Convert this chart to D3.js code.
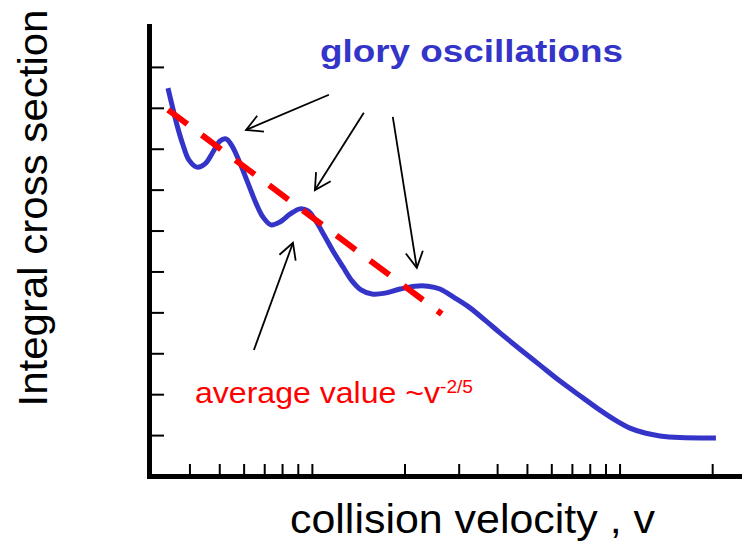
<!DOCTYPE html>
<html>
<head>
<meta charset="utf-8">
<script src="https://cdn.jsdelivr.net/npm/d3@7"></script>
<style>
  html, body { margin: 0; padding: 0; background: #fff; }
  svg { display: block; font-family: "Liberation Sans", Arial, sans-serif; }
</style>
</head>
<body>
<svg id="chart" width="742" height="541"></svg>
<script>
// Integral cross section vs collision velocity (log velocity axis)
const velocity = [0.3406, 0.3510, 0.3644, 0.3812, 0.3987, 0.4232, 0.4494, 0.4771, 0.5028, 0.5258,
                  0.5499, 0.5838, 0.6198, 0.6580, 0.6935, 0.7362, 0.7873, 0.8487, 0.9148, 0.9712,
                  1.031, 1.095, 1.171, 1.262, 1.350, 1.444, 1.568, 1.728, 1.933, 2.163,
                  2.384, 2.608, 2.918, 3.265, 3.653, 4.087, 4.747, 5.511, 6.401, 7.605,
                  8.636, 9.808, 10.81, 12.09, 13.53, 15.72, 20.57];
const crossSection = [9.48, 9.07, 8.58, 8.09, 7.72, 7.55, 7.63, 7.92, 8.19, 8.24,
                      8.07, 7.65, 7.16, 6.67, 6.33, 6.14, 6.21, 6.40, 6.53, 6.48,
                      6.23, 5.89, 5.50, 5.11, 4.77, 4.55, 4.45, 4.47, 4.57, 4.64,
                      4.64, 4.57, 4.35, 4.11, 3.81, 3.50, 3.10, 2.71, 2.32, 1.91,
                      1.61, 1.34, 1.17, 1.05, 0.98, 0.94, 0.93];

// straight average trend ~v^-2/5
const avgVelocity = [0.341, 2.643];
const avgCrossSection = [8.95, 3.96];

// tick positions (unlabelled)
const xTickValues = [0.4, 0.5, 0.6, 0.7, 0.8, 0.9, 1, 2, 3, 4, 5, 6, 7, 8, 9, 10, 20];
const yTickValues = [1, 2, 3, 4, 5, 6, 7, 8, 9, 10];

// annotation arrows: tail and tip in data units
const arrowTailV = [1.136, 1.475, 1.832, 0.648];
const arrowTailS = [9.32, 8.88, 8.78, 3.08];
const arrowTipV  = [0.611, 1.023, 2.193, 0.868];
const arrowTipS  = [8.46, 6.99, 5.09, 5.70];

const svg = d3.select("#chart");
const blue = "#3434c8", red = "#ff0000";

const x = d3.scaleLog().domain([0.3, 25]).range([151, 742]);
const y = d3.scaleLinear().domain([0, 11]).range([476, 26]);

// ticks
svg.append("g")
  .attr("transform", `translate(149,0)`)
  .call(d3.axisRight(y).tickValues(yTickValues).tickSize(15).tickFormat(""))
  .call(g => g.select(".domain").remove())
  .call(g => g.selectAll(".tick line").attr("stroke", "#000").attr("stroke-width", 2));

svg.append("g")
  .attr("transform", `translate(0,475)`)
  .call(d3.axisTop(x).tickValues(xTickValues).tickSize(11).tickFormat(""))
  .call(g => g.select(".domain").remove())
  .call(g => g.selectAll(".tick line").attr("stroke", "#000").attr("stroke-width", 2));

// axis lines
svg.append("line").attr("x1", 149.5).attr("x2", 149.5).attr("y1", 24).attr("y2", 479)
  .attr("stroke", "#000").attr("stroke-width", 5);
svg.append("line").attr("x1", 147).attr("x2", 742).attr("y1", 476.5).attr("y2", 476.5)
  .attr("stroke", "#000").attr("stroke-width", 5);

// cross-section curve
const pts = velocity.map((v, i) => [v, crossSection[i]]);
svg.append("path")
  .datum(pts)
  .attr("fill", "none")
  .attr("stroke", blue)
  .attr("stroke-width", 5)
  .attr("stroke-linejoin", "round")
  .attr("d", d3.line().x(d => x(d[0])).y(d => y(d[1])).curve(d3.curveCatmullRom.alpha(0.5)));

// average trend
svg.append("path")
  .datum(avgVelocity.map((v, i) => [v, avgCrossSection[i]]))
  .attr("fill", "none")
  .attr("stroke", red)
  .attr("stroke-width", 6)
  .attr("stroke-dasharray", "24 18")
  .attr("d", d3.line().x(d => x(d[0])).y(d => y(d[1])));

// arrows
const arrows = svg.append("g").attr("stroke", "#000").attr("stroke-width", 1.8).attr("fill", "none");
arrowTailV.forEach((tv, i) => {
  const x0 = x(tv), y0 = y(arrowTailS[i]);
  const x1 = x(arrowTipV[i]), y1 = y(arrowTipS[i]);
  arrows.append("line").attr("x1", x0).attr("y1", y0).attr("x2", x1).attr("y2", y1);
  const a = Math.atan2(y0 - y1, x0 - x1), L = 18, w = 0.5;
  arrows.append("polyline").attr("points", [
    [x1 + L * Math.cos(a + w), y1 + L * Math.sin(a + w)],
    [x1, y1],
    [x1 + L * Math.cos(a - w), y1 + L * Math.sin(a - w)]
  ].map(p => p.join(",")).join(" "));
});

// texts
svg.append("text")
  .attr("x", 320).attr("y", 62)
  .attr("fill", blue).attr("font-weight", "bold").attr("font-size", 32)
  .attr("textLength", 303).attr("lengthAdjust", "spacingAndGlyphs")
  .text("glory oscillations");

const avg = svg.append("text")
  .attr("x", 195).attr("y", 403)
  .attr("fill", red).attr("font-size", 29);
avg.append("tspan")
  .attr("textLength", 245).attr("lengthAdjust", "spacingAndGlyphs")
  .text("average value ~v");
avg.append("tspan").attr("font-size", 19).attr("dy", -10)
  .attr("textLength", 33).attr("lengthAdjust", "spacingAndGlyphs")
  .text("-2/5");

svg.append("text")
  .attr("transform", "translate(47,208) rotate(-90)")
  .attr("text-anchor", "middle")
  .attr("font-size", 41)
  .attr("textLength", 397).attr("lengthAdjust", "spacingAndGlyphs")
  .text("Integral cross section");

svg.append("text")
  .attr("x", 290).attr("y", 533)
  .attr("font-size", 41)
  .attr("textLength", 365).attr("lengthAdjust", "spacingAndGlyphs")
  .text("collision velocity , v");
</script>
</body>
</html>
